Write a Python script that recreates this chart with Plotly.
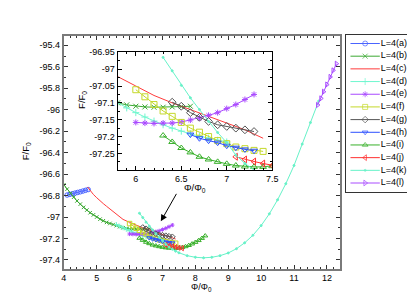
import plotly.graph_objects as go

# ---------------- data ----------------
a_x = [4.10, 4.18, 4.26, 4.34, 4.42, 4.50, 4.58, 4.66, 4.74]
a_y = [-96.795, -96.789, -96.783, -96.777, -96.771, -96.765, -96.758, -96.751, -96.744]

b_x = [4.0, 4.1, 4.2, 4.3, 4.4, 4.5, 4.6, 4.7, 4.8, 4.9, 5.0, 5.1, 5.2, 5.3, 5.4,
       5.5, 5.6, 5.7, 5.8, 5.9, 6.0, 6.1, 6.2, 6.3, 6.4, 6.5, 6.6]
b_y = [-96.70, -96.74, -96.78, -96.815, -96.85, -96.88, -96.91, -96.935, -96.96, -96.98,
       -97.00, -97.02, -97.035, -97.05, -97.06, -97.07, -97.08, -97.09, -97.10, -97.106,
       -97.11, -97.112, -97.113, -97.113, -97.112, -97.111, -97.11]

c_x = [4.72, 4.8, 4.9, 5.0, 5.1, 5.2, 5.3, 5.4, 5.5, 5.6, 5.7, 5.8, 6.0, 6.2, 6.4,
       6.6, 6.8, 7.0, 7.2, 7.4]
c_y = [-96.72, -96.755, -96.79, -96.82, -96.85, -96.875, -96.90, -96.925, -96.95, -96.975,
       -97.0, -97.022, -97.05, -97.078, -97.10, -97.12, -97.14, -97.16, -97.18, -97.205]

d_x = [5.6, 5.7, 5.8, 5.9, 6.0, 6.1, 6.2, 6.3, 6.4, 6.5, 6.6, 6.7, 6.8, 6.9, 7.0]
d_y = [-97.07, -97.085, -97.10, -97.115, -97.129, -97.142, -97.154, -97.165, -97.175,
       -97.184, -97.192, -97.199, -97.205, -97.211, -97.216]

e_x = [6.0, 6.1, 6.2, 6.3, 6.4, 6.5, 6.6, 6.7, 6.8, 6.9, 7.0, 7.1, 7.2, 7.3]
e_y = [-97.158, -97.160, -97.161, -97.160, -97.160, -97.157, -97.151, -97.145, -97.137,
       -97.129, -97.117, -97.105, -97.090, -97.075]

f_x = [6.0, 6.1, 6.2, 6.3, 6.4, 6.5, 6.6, 6.7, 6.8, 6.9, 7.0, 7.1, 7.2, 7.3, 7.4]
f_y = [-97.061, -97.082, -97.105, -97.124, -97.140, -97.158, -97.175, -97.187, -97.200,
       -97.212, -97.221, -97.231, -97.236, -97.241, -97.244]

g_x = [6.4, 6.5, 6.6, 6.7, 6.8, 6.9, 7.0, 7.1, 7.2, 7.3]
g_y = [-97.098, -97.110, -97.129, -97.143, -97.155, -97.165, -97.170, -97.175, -97.180, -97.185]

h_x = [6.6, 6.7, 6.8, 6.9, 7.0, 7.1, 7.2, 7.3]
h_y = [-97.194, -97.205, -97.212, -97.218, -97.227, -97.233, -97.238, -97.242]

i_x = [6.3, 6.4, 6.5, 6.6, 6.7, 6.8, 6.9, 7.0, 7.1, 7.2, 7.3, 7.4, 7.5, 7.6, 7.7, 7.8,
       7.9, 8.0, 8.1, 8.2, 8.3]
i_y = [-97.197, -97.216, -97.234, -97.247, -97.26, -97.268, -97.275, -97.281, -97.286,
       -97.289, -97.29, -97.29, -97.288, -97.283, -97.275, -97.264, -97.25, -97.235,
       -97.218, -97.198, -97.175]

j_x = [7.1, 7.2, 7.3, 7.4, 7.5, 7.6]
j_y = [-97.26, -97.268, -97.274, -97.28, -97.286, -97.29]

k_x = [6.3, 6.4, 6.5, 6.6, 6.7, 6.8, 6.9, 7.0, 7.1, 7.2, 7.3, 7.4, 7.5, 7.75, 8.0, 8.25,
       8.5, 8.75, 9.0, 9.25, 9.5, 9.75, 10.0, 10.25, 10.5, 10.75, 11.0, 11.25, 11.5, 11.75]
k_y = [-96.965, -97.005, -97.048, -97.085, -97.12, -97.155, -97.188, -97.218, -97.255,
       -97.28, -97.30, -97.318, -97.333, -97.36, -97.375, -97.38, -97.375, -97.36, -97.335,
       -97.295, -97.24, -97.17, -97.08, -96.97, -96.84, -96.69, -96.52, -96.32, -96.12, -95.92]

l_x = [11.72, 11.82, 11.90, 12.0, 12.1, 12.19, 12.29]
l_y = [-95.956, -95.895, -95.833, -95.766, -95.695, -95.634, -95.572]

series_names = ["L=4(a)", "L=4(b)", "L=4(c)", "L=4(d)", "L=4(e)", "L=4(f)",
                "L=4(g)", "L=4(h)", "L=4(i)", "L=4(j)", "L=4(k)", "L=4(l)"]

main_xticks = [4, 5, 6, 7, 8, 9, 10, 11, 12]
main_xtext = ["4", "5", "6", "7", "8", "9", "10", "11", "12"]
main_yticks = [-95.4, -95.6, -95.8, -96.0, -96.2, -96.4, -96.6, -96.8, -97.0, -97.2, -97.4]
main_ytext = ["-95.4", "-95.6", "-95.8", "-96", "-96.2", "-96.4", "-96.6", "-96.8",
              "-97", "-97.2", "-97.4"]
inset_xticks = [6, 6.5, 7, 7.5]
inset_xtext = ["6", "6.5", "7", "7.5"]
inset_yticks = [-96.95, -97.0, -97.05, -97.1, -97.15, -97.2, -97.25]
inset_ytext = ["-96.95", "-97", "-97.05", "-97.1", "-97.15", "-97.2", "-97.25"]

# ---------------- styles ----------------
xs = [a_x, b_x, c_x, d_x, e_x, f_x, g_x, h_x, i_x, j_x, k_x, l_x]
ys = [a_y, b_y, c_y, d_y, e_y, f_y, g_y, h_y, i_y, j_y, k_y, l_y]
colors = ["#4a64ff", "#3aa832", "#ff3b3b", "#70f7cf", "#a948ff", "#c4d82a",
          "#555555", "#2c50ff", "#38b02a", "#ff3030", "#66f2c8", "#a94cff"]
symbols = ["circle-open", "x-thin-open", None, "cross-thin-open", "asterisk-open",
           "square-open", "diamond-open", "triangle-down-open", "triangle-up-open",
           "triangle-left-open", "circle", "triangle-right-open"]

FONT = "Liberation Sans, Arial, sans-serif"
W, H = 415, 293

fig = go.Figure()

def add_series(xref, yref, msize):
    for n in range(12):
        sym = symbols[n]
        if sym is None:
            mode = "lines"
            marker = dict()
        else:
            mode = "lines+markers"
            if sym == "circle":
                size = 2
            elif "asterisk" in sym or "thin" in sym:
                size = msize - 1
            else:
                size = msize
            marker = dict(symbol=sym, size=size, color=colors[n],
                          line=dict(color=colors[n], width=1))
        fig.add_trace(go.Scatter(x=xs[n], y=ys[n], mode=mode, xaxis=xref, yaxis=yref,
                                 line=dict(color=colors[n], width=1), marker=marker,
                                 showlegend=False, hoverinfo="skip"))

add_series("x", "y", 4.5)
add_series("x2", "y2", 6)

# legend drawn in its own small axes
for n in range(12):
    sym = symbols[n]
    if sym is None:
        fig.add_trace(go.Scatter(x=[5, 35], y=[n, n], mode="lines", xaxis="x3", yaxis="y3",
                                 line=dict(color=colors[n], width=1), showlegend=False,
                                 hoverinfo="skip"))
    else:
        size = 2 if sym == "circle" else 5
        fig.add_trace(go.Scatter(x=[5, 20, 35], y=[n, n, n], mode="lines+markers",
                                 xaxis="x3", yaxis="y3",
                                 line=dict(color=colors[n], width=1),
                                 marker=dict(symbol=sym, size=[0, size, 0], color=colors[n],
                                             line=dict(color=colors[n], width=1)),
                                 showlegend=False, hoverinfo="skip"))
fig.add_trace(go.Scatter(x=[36] * 12, y=list(range(12)), mode="text", text=series_names,
                         textposition="middle right", xaxis="x3", yaxis="y3",
                         cliponaxis=False,
                         textfont=dict(family=FONT, size=9, color="#000"),
                         showlegend=False, hoverinfo="skip"))

def px_x(p):
    return p / W

def px_y(p):
    return (H - p) / H

main_frame = dict(showline=True, linecolor="#7a7a7a", linewidth=2, mirror="ticks",
                  ticks="inside", ticklen=4, tickcolor="#333", showgrid=False,
                  zeroline=False, tickfont=dict(family=FONT, size=9, color="#000"))
inset_frame = dict(showline=True, linecolor="#000", linewidth=1, mirror="ticks",
                   ticks="inside", ticklen=4, tickcolor="#000", showgrid=False,
                   zeroline=False, tickfont=dict(family=FONT, size=9, color="#000"))

fig.update_layout(
    width=W, height=H,
    margin=dict(l=0, r=0, t=0, b=0),
    paper_bgcolor="white", plot_bgcolor="white",
    showlegend=False,
    xaxis=dict(domain=[px_x(54), px_x(336)], range=[4, 12.39],
               tickvals=main_xticks, ticktext=main_xtext,
               minor=dict(dtick=0.2, tick0=4, ticks="inside", ticklen=2, tickcolor="#333"),
               anchor="y", **main_frame),
    yaxis=dict(domain=[px_y(260), px_y(23)], range=[-97.48, -95.31],
               tickvals=main_yticks, ticktext=main_ytext,
               minor=dict(dtick=0.1, tick0=-97.4, ticks="inside", ticklen=2, tickcolor="#333"),
               anchor="x", **main_frame),
    xaxis2=dict(domain=[px_x(109), px_x(267)], range=[5.8, 7.5],
                tickvals=inset_xticks, ticktext=inset_xtext,
                minor=dict(dtick=0.1, tick0=6, ticks="inside", ticklen=2, tickcolor="#000"),
                anchor="y2", **inset_frame),
    yaxis2=dict(domain=[px_y(160), px_y(40)], range=[-97.3, -96.95],
                tickvals=inset_yticks, ticktext=inset_ytext,
                minor=dict(dtick=0.025, tick0=-97.3, ticks="inside", ticklen=2, tickcolor="#000"),
                anchor="x2", **inset_frame),
    xaxis3=dict(domain=[px_x(342), px_x(409)], range=[0, 67], anchor="y3",
                showline=True, mirror=True, linecolor="#333", linewidth=1,
                showticklabels=False, ticks="", showgrid=False, zeroline=False, fixedrange=True),
    yaxis3=dict(domain=[px_y(182), px_y(22)], range=[11.7, -0.7], anchor="x3",
                showline=True, mirror=True, linecolor="#333", linewidth=1,
                showticklabels=False, ticks="", showgrid=False, zeroline=False, fixedrange=True),
)

title_font = dict(family=FONT, size=9.5, color="#000")
fig.add_annotation(text="Φ/Φ<sub>0</sub>", xref="paper", yref="paper",
                   x=px_x(195), y=px_y(286), showarrow=False,
                   font=dict(family=FONT, size=9, color="#000"),
                   xanchor="center", yanchor="bottom", borderpad=0)
fig.add_annotation(text="F/F<sub>0</sub>", xref="paper", yref="paper", textangle=-90,
                   x=px_x(15), y=px_y(141), showarrow=False, font=title_font,
                   xanchor="center", yanchor="middle")
fig.add_annotation(text="Φ/Φ<sub>0</sub>", xref="paper", yref="paper",
                   x=px_x(188), y=px_y(178), showarrow=False, font=title_font,
                   xanchor="center", yanchor="middle")
fig.add_annotation(text="F/F<sub>0</sub>", xref="paper", yref="paper", textangle=-90,
                   x=px_x(73), y=px_y(88), showarrow=False, font=title_font,
                   xanchor="center", yanchor="middle")

# arrow pointing at the clustered region
fig.add_annotation(x=6.95, y=-97.04, ax=7.45, ay=-96.77, xref="x", yref="y",
                   axref="x", ayref="y", showarrow=True, arrowhead=2, arrowsize=1.3,
                   arrowwidth=1, arrowcolor="#000", text="")

fig.write_html("out.html")
